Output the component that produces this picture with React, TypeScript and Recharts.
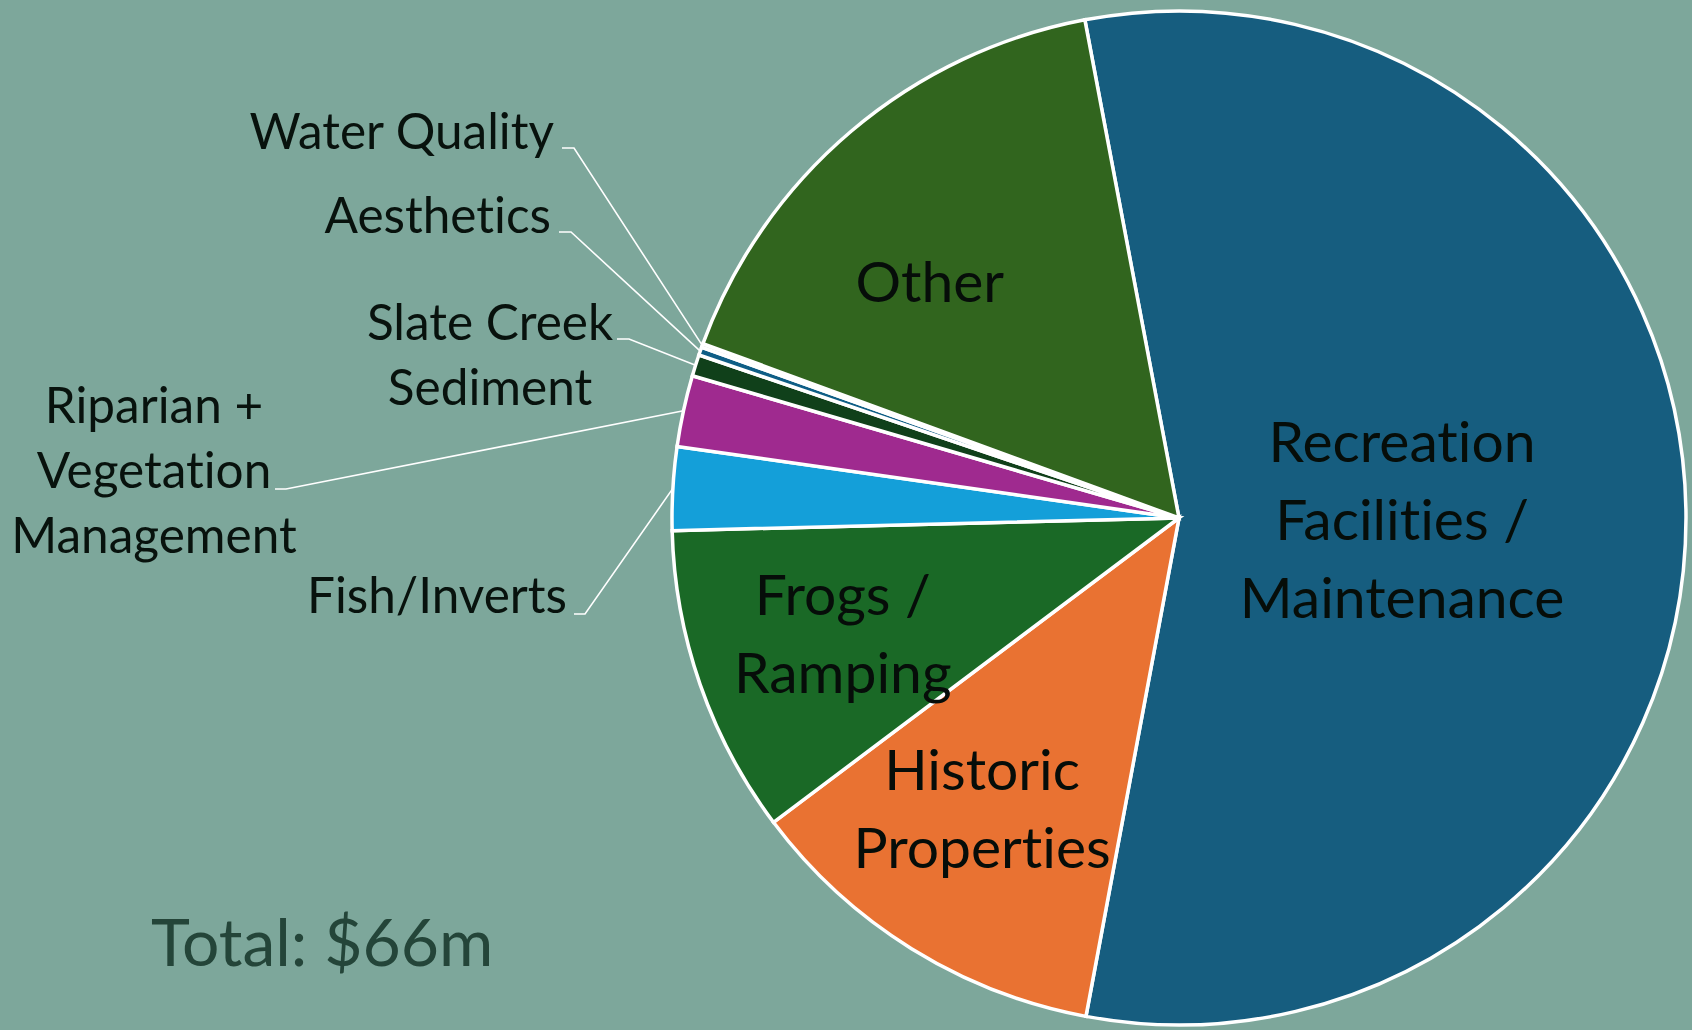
import { PieChart, Pie, Cell } from "recharts";

// spending by category, $m (total $66m)
const categories = [
  "Recreation Facilities / Maintenance",
  "Historic Properties",
  "Frogs / Ramping",
  "Fish/Inverts",
  "Riparian + Vegetation Management",
  "Slate Creek Sediment",
  "Aesthetics",
  "Water Quality",
  "Other",
];
const amounts = [36.9, 7.8, 6.5, 1.75, 1.5, 0.45, 0.17, 0.08, 10.85];
const labelLines = [
  ["Recreation", "Facilities /", "Maintenance"],
  ["Historic", "Properties"],
  ["Frogs /", "Ramping"],
  ["Fish/Inverts"],
  ["Riparian +", "Vegetation", "Management"],
  ["Slate Creek", "Sediment"],
  ["Aesthetics"],
  ["Water Quality"],
  ["Other"],
];
const totalLabel = "Total: $66m";

const COLORS = [
  "#165d7f",
  "#e97232",
  "#1a6926",
  "#149fd9",
  "#9f2a8f",
  "#10401a",
  "#0f5e86",
  "#c9d6d0",
  "#31651e",
];

const BG = "#7da79b";
const RADIAN = Math.PI / 180;
const NO_LIGA = { fontVariantLigatures: "none" as const };

const data = categories.map((name, i) => ({ name, value: amounts[i] }));

// inside labels: radius fraction + clockwise nudge (deg)
const insideLayout: Record<number, { r: number; nudge: number }> = {
  0: { r: 0.44, nudge: 0 },
  1: { r: 0.69, nudge: 2.4 },
  2: { r: 0.7, nudge: 0.5 },
  8: { r: 0.68, nudge: -6 },
};

// outside labels, offsets from pie centre
const outsideLayout: Record<
  number,
  { x: number; y: number; anchor: "end" | "middle"; gap: number; elbow: number[] }
> = {
  3: { x: -612, y: 95, anchor: "end", gap: 65, elbow: [-605, 96, -594, 96] },
  4: { x: -1025, y: -95, anchor: "middle", gap: 65, elbow: [-904, -29, -893, -29] },
  5: { x: -689, y: -178, anchor: "middle", gap: 65, elbow: [-562, -179, -550, -179] },
  6: { x: -628, y: -285, anchor: "end", gap: 65, elbow: [-620, -286, -608, -286] },
  7: { x: -625, y: -369, anchor: "end", gap: 65, elbow: [-617, -370, -605, -370] },
};

const renderLabel = (props: any) => {
  const { cx, cy, midAngle, outerRadius, index } = props;
  const lines = labelLines[index];
  const inside = insideLayout[index];
  if (inside) {
    const ang = (midAngle - inside.nudge) * RADIAN;
    const x = cx + outerRadius * inside.r * Math.cos(-ang);
    const y = cy + outerRadius * inside.r * Math.sin(-ang);
    const gap = 78;
    const top = y - ((lines.length - 1) * gap) / 2;
    return (
      <text
        key={`in-${index}`}
        x={x}
        y={top}
        textAnchor="middle"
        dominantBaseline="central"
        fill="#060d09"
        fontFamily="Lato"
        fontSize={57}
        style={NO_LIGA}
      >
        {lines.map((t, i) => (
          <tspan key={t} x={x} y={top + i * gap}>
            {t}
          </tspan>
        ))}
      </text>
    );
  }
  const out = outsideLayout[index];
  if (!out) return null;
  const sx = cx + outerRadius * Math.cos(-midAngle * RADIAN);
  const sy = cy + outerRadius * Math.sin(-midAngle * RADIAN);
  const [ax, ay, bx, by] = out.elbow;
  return (
    <g key={`out-${index}`}>
      <polyline
        points={`${cx + ax},${cy + ay} ${cx + bx},${cy + by} ${sx},${sy}`}
        fill="none"
        stroke="#ffffff"
        strokeWidth={1.6}
      />
      <text
        x={cx + out.x}
        y={cy + out.y}
        textAnchor={out.anchor}
        fill="#08120d"
        fontFamily="Lato"
        fontSize={49.5}
        style={NO_LIGA}
      >
        {lines.map((t, i) => (
          <tspan key={t} x={cx + out.x} y={cy + out.y + i * out.gap}>
            {t}
          </tspan>
        ))}
      </text>
    </g>
  );
};

export default function App() {
  return (
    <div style={{ width: 1692, height: 1030, background: BG, position: "relative" }}>
      <style>{"body{margin:0}"}</style>
      <PieChart width={1692} height={1030} margin={{ top: 0, right: 0, bottom: 0, left: 0 }}>
        <Pie
          data={data}
          dataKey="value"
          nameKey="name"
          cx={1179}
          cy={518}
          outerRadius={507}
          startAngle={100.7}
          endAngle={-259.3}
          stroke="#ffffff"
          strokeWidth={3.5}
          label={renderLabel}
          labelLine={false}
          isAnimationActive={false}
        >
          {data.map((d, i) => (
            <Cell key={d.name} fill={COLORS[i]} />
          ))}
        </Pie>
        <text x={151} y={966} fill="#244539" fontFamily="Lato" fontSize={66}>
          {totalLabel}
        </text>
      </PieChart>
    </div>
  );
}
